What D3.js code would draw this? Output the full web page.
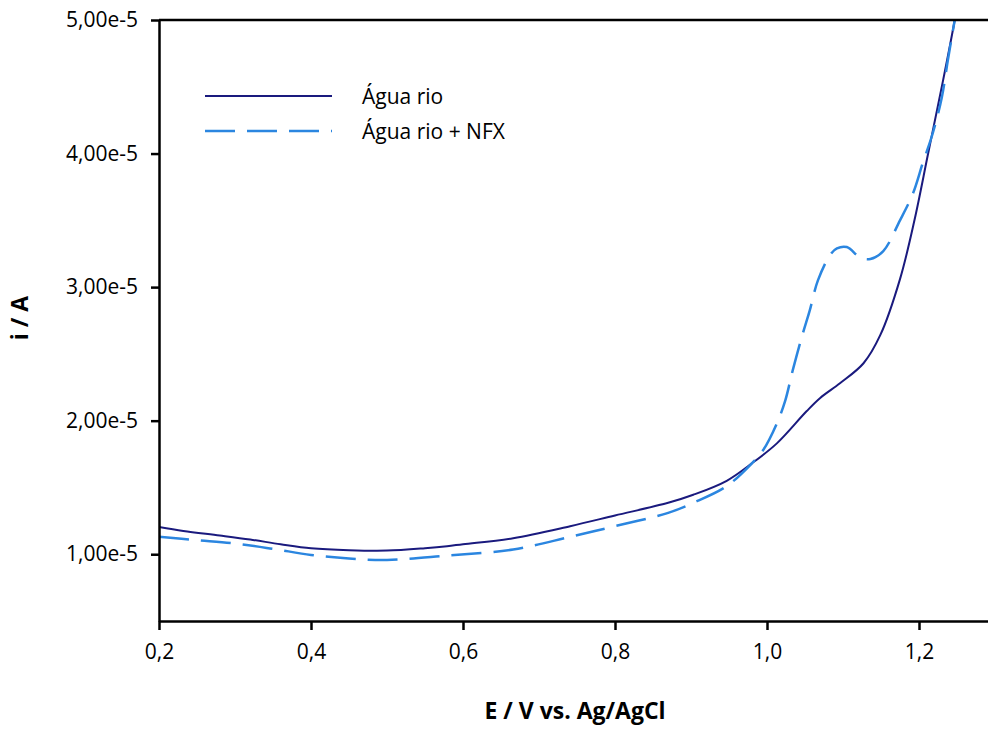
<!DOCTYPE html>
<html>
<head>
<meta charset="utf-8">
<script src="https://cdn.jsdelivr.net/npm/d3@7"></script>
<style>
  body { margin: 0; background: #fff; }
  svg { display: block; }
  text { font-family: "Open Sans", sans-serif; fill: #000; }
</style>
</head>
<body>
<svg id="chart" width="988" height="729"></svg>
<script>
// Água rio (solid)
let potentialRio = [0.2, 0.232, 0.28, 0.32, 0.36, 0.4, 0.45, 0.5, 0.55, 0.579, 0.6, 0.666, 0.741, 0.8, 0.87, 0.903, 0.947, 0.98,
  1.013, 1.052, 1.07, 1.096, 1.127, 1.149, 1.175, 1.194, 1.212, 1.23, 1.247, 1.26];
let currentRio = [1.204e-5, 1.174e-5, 1.14e-5, 1.11e-5, 1.075e-5, 1.045e-5, 1.03e-5, 1.027e-5, 1.045e-5, 1.06e-5, 1.075e-5, 1.12e-5, 1.21e-5, 1.29e-5, 1.385e-5, 1.445e-5, 1.55e-5, 1.68e-5,
  1.83e-5, 2.07e-5, 2.17e-5, 2.28e-5, 2.43e-5, 2.64e-5, 3.06e-5, 3.5e-5, 4.0e-5, 4.5e-5, 5.0e-5, 5.45e-5];

// Água rio + NFX (dashed)
let potentialNfx = [0.2, 0.25, 0.3, 0.35, 0.4, 0.45, 0.5, 0.579, 0.666, 0.741, 0.8, 0.87, 0.903, 0.947, 0.98, 0.995,
  1.013, 1.024, 1.034, 1.047, 1.056, 1.067, 1.083, 1.092, 1.105, 1.123, 1.136, 1.153, 1.175, 1.192, 1.205, 1.218, 1.23, 1.238, 1.247, 1.26];
let currentNfx = [1.13e-5, 1.105e-5, 1.08e-5, 1.04e-5, 0.995e-5, 0.968e-5, 0.957e-5, 0.99e-5, 1.035e-5, 1.13e-5, 1.21e-5, 1.31e-5, 1.385e-5, 1.51e-5, 1.68e-5, 1.78e-5,
  1.98e-5, 2.15e-5, 2.38e-5, 2.65e-5, 2.82e-5, 3.05e-5, 3.24e-5, 3.29e-5, 3.3e-5, 3.22e-5, 3.21e-5, 3.27e-5, 3.5e-5, 3.7e-5, 3.93e-5, 4.15e-5, 4.42e-5, 4.7e-5, 5.0e-5, 5.45e-5];

let xTicks = [0.2, 0.4, 0.6, 0.8, 1.0, 1.2];
let yTicks = [1e-5, 2e-5, 3e-5, 4e-5, 5e-5];
let seriesNames = ['Água rio', 'Água rio + NFX'];

let svg = d3.select('#chart');

let x = d3.scaleLinear().domain([0.2, 1.3]).range([159, 995]);
let y = d3.scaleLinear().domain([0.5e-5, 5e-5]).range([621, 20]);

let comma = d3.formatLocale({decimal: ',', thousands: '.', grouping: [3], currency: ['', '']});
let fmtX = comma.format('.1f');
let fmtY = comma.format('.2e');

svg.append('clipPath').attr('id', 'plot')
  .append('rect')
  .attr('x', 159).attr('y', 20)
  .attr('width', 836).attr('height', 601);

let line = d3.line()
  .x(d => x(d[0]))
  .y(d => y(d[1]))
  .curve(d3.curveCatmullRom.alpha(0.5));

let rio = d3.zip(potentialRio, currentRio);
let nfx = d3.zip(potentialNfx, currentNfx);

let plot = svg.append('g').attr('clip-path', 'url(#plot)');

plot.append('path')
  .datum(rio)
  .attr('d', line)
  .attr('fill', 'none')
  .attr('stroke', '#1a1a7e')
  .attr('stroke-width', 2);

plot.append('path')
  .datum(nfx)
  .attr('d', line)
  .attr('fill', 'none')
  .attr('stroke', '#2b86e0')
  .attr('stroke-width', 2.5)
  .attr('stroke-dasharray', '30,12');

// Axes
let xAxis = svg.append('g')
  .attr('transform', 'translate(0,621)')
  .call(d3.axisBottom(x).tickValues(xTicks).tickFormat(fmtX).tickSize(9).tickSizeOuter(0).tickPadding(14));

let yAxis = svg.append('g')
  .attr('transform', 'translate(159,0)')
  .call(d3.axisLeft(y).tickValues(yTicks).tickFormat(fmtY).tickSize(8).tickSizeOuter(0).tickPadding(13));

[xAxis, yAxis].forEach(function(g) {
  g.selectAll('path, line').attr('stroke', '#000').attr('stroke-width', 2.5);
  g.selectAll('text').style('font-size', '21px').attr('fill', '#000');
});

// top frame line
svg.append('line')
  .attr('x1', 159).attr('x2', 988)
  .attr('y1', y(5e-5)).attr('y2', y(5e-5))
  .attr('stroke', '#000').attr('stroke-width', 2.5);

// Axis titles
svg.append('text')
  .attr('x', 575).attr('y', 719)
  .attr('text-anchor', 'middle')
  .style('font-size', '23px').style('font-weight', 'bold')
  .text('E / V vs. Ag/AgCl');

svg.append('text')
  .attr('transform', 'translate(28,318) rotate(-90)')
  .attr('text-anchor', 'middle')
  .style('font-size', '23px').style('font-weight', 'bold')
  .text('i / A');

// Legend
let legend = svg.append('g');
let legendY = [96, 131];
legend.selectAll('line')
  .data(seriesNames)
  .join('line')
  .attr('x1', 205).attr('x2', 332)
  .attr('y1', (d, i) => legendY[i]).attr('y2', (d, i) => legendY[i])
  .attr('stroke', (d, i) => i === 0 ? '#1a1a7e' : '#2b86e0')
  .attr('stroke-width', (d, i) => i === 0 ? 2 : 2.5)
  .attr('stroke-dasharray', (d, i) => i === 0 ? null : '30,12');

legend.selectAll('text')
  .data(seriesNames)
  .join('text')
  .attr('x', 362)
  .attr('y', (d, i) => legendY[i] + 8)
  .style('font-size', '21px')
  .text(d => d);
</script>
</body>
</html>
